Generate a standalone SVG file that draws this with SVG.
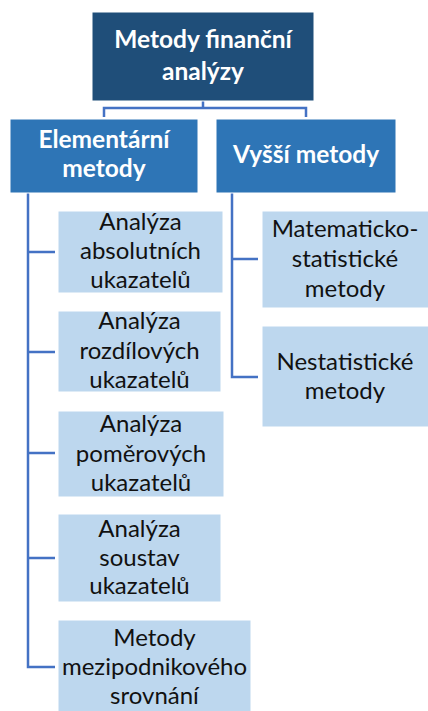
<svg xmlns="http://www.w3.org/2000/svg" width="428" height="711" viewBox="0 0 428 711">
  <style>
    .root { fill: #1F4E79; stroke: #ffffff; stroke-width: 1; }
    .mid { fill: #2E75B6; stroke: #ffffff; stroke-width: 1; }
    .leaf { fill: #BDD7EE; stroke: #ffffff; stroke-width: 1; }
    .hd { font-family: Lato, "Liberation Sans", sans-serif; font-weight: bold; font-size: 24.5px; fill: #ffffff; text-anchor: middle; }
    .tx { font-family: Lato, "Liberation Sans", sans-serif; font-size: 24px; fill: #111111; text-anchor: middle; }
    .conn { fill: none; stroke: #4472C4; stroke-width: 2.5; }
  </style>
  <rect width="428" height="711" fill="#ffffff"/>

  <g id="connectors">
    <path class="conn" d="M203,101 V108 M104,117 V108 H306 V117"/>
    <path class="conn" d="M28,193 V667 H55 M28,252 H55 M28,352 H55 M28,453 H55 M28,558 H55"/>
    <path class="conn" d="M232,193 V377 H258 M232,259 H258"/>
  </g>

  <g id="root">
    <rect class="root" x="92" y="12" width="222" height="89"/>
    <text class="hd" x="203" y="48">Metody finanční</text>
    <text class="hd" x="203" y="80">analýzy</text>
  </g>

  <g id="elementarni">
    <rect class="mid" x="10" y="119" width="188" height="74"/>
    <text class="hd" x="104" y="148">Elementární</text>
    <text class="hd" x="104" y="177">metody</text>
  </g>

  <g id="vyssi">
    <rect class="mid" x="216" y="119" width="180" height="74"/>
    <text class="hd" x="306" y="163">Vyšší metody</text>
  </g>

  <g id="absolutni">
    <rect class="leaf" x="58" y="211" width="165" height="82"/>
    <text class="tx" x="140.5" y="230">Analýza</text>
    <text class="tx" x="140.5" y="259">absolutních</text>
    <text class="tx" x="140.5" y="288">ukazatelů</text>
  </g>

  <g id="rozdilove">
    <rect class="leaf" x="58" y="311" width="163" height="81"/>
    <text class="tx" x="139.5" y="329">Analýza</text>
    <text class="tx" x="139.5" y="359">rozdílových</text>
    <text class="tx" x="139.5" y="388">ukazatelů</text>
  </g>

  <g id="pomerove">
    <rect class="leaf" x="58" y="411" width="166" height="86"/>
    <text class="tx" x="141" y="432">Analýza</text>
    <text class="tx" x="141" y="462">poměrových</text>
    <text class="tx" x="141" y="491">ukazatelů</text>
  </g>

  <g id="soustavy">
    <rect class="leaf" x="58" y="514" width="163" height="88"/>
    <text class="tx" x="139.5" y="537">Analýza</text>
    <text class="tx" x="139.5" y="566">soustav</text>
    <text class="tx" x="139.5" y="594">ukazatelů</text>
  </g>

  <g id="mezipodnikove">
    <rect class="leaf" x="58" y="620" width="193" height="92"/>
    <text class="tx" x="154.5" y="646">Metody</text>
    <text class="tx" x="154.5" y="675">mezipodnikového</text>
    <text class="tx" x="154.5" y="704">srovnání</text>
  </g>

  <g id="matstat">
    <rect class="leaf" x="262" y="211" width="167" height="97"/>
    <text class="tx" x="345" y="237">Matematicko-</text>
    <text class="tx" x="345" y="267">statistické</text>
    <text class="tx" x="345" y="297">metody</text>
  </g>

  <g id="nestat">
    <rect class="leaf" x="262" y="326" width="167" height="101"/>
    <text class="tx" x="345" y="370">Nestatistické</text>
    <text class="tx" x="345" y="399">metody</text>
  </g>
</svg>
